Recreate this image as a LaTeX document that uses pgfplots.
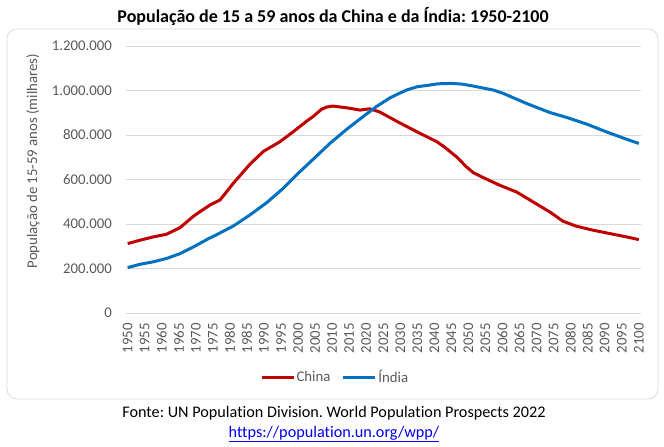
\documentclass[border=0pt]{standalone}
\usepackage{fontspec}
\setmainfont{Carlito}[Ligatures=CommonOff]
\usepackage{pgfplots}
\usepackage{pgfplotstable}
\pgfplotsset{compat=1.18}
\frenchspacing
\definecolor{cnred}{HTML}{C00000}
\definecolor{inblue}{HTML}{0070C0}
\definecolor{gridgray}{HTML}{D9D9D9}
\definecolor{txtgray}{HTML}{595959}
\definecolor{linkblue}{HTML}{0000EE}

\pgfplotstableread{
year value
1950 312000
1953.6 327000
1957.5 342000
1961.4 354000
1965.4 384000
1969.3 435000
1971.2 455000
1974 484000
1977.1 508000
1981 583000
1985.9 669000
1989.8 726000
1994.7 770000
1998.6 815000
2002.5 862000
2004.5 884000
2006.9 916000
2008.5 926000
2010.3 930000
2014.3 922000
2018.2 912000
2021.1 918000
2024 903000
2029.4 858000
2034.8 815000
2040.7 770000
2042.6 750000
2046.5 702000
2049.4 657000
2051.4 631000
2054.3 609000
2059.2 574000
2064.1 544000
2069 499000
2073.9 454000
2077.8 412000
2081.7 390000
2086.6 372000
2091.5 357000
2096.4 342000
2100 330000
}\china

\pgfplotstableread{
year value
1950 204000
1953.6 219000
1957.5 230000
1961.4 245000
1965.4 267000
1969.3 297000
1971.2 313000
1973.7 334000
1976.1 352000
1981 391000
1985.9 441000
1990.8 496000
1995.7 561000
2000.6 636000
2004.5 692000
2009.4 763000
2014.3 826000
2019.2 884000
2023.1 929000
2027 967000
2029.4 985000
2032 1003000
2035 1017000
2038 1023000
2041 1030000
2045 1032000
2048 1029000
2051.4 1020000
2057.3 1002000
2060.2 987000
2067 942000
2073.9 901000
2078.8 879000
2084.7 849000
2090.5 814000
2096.4 781000
2100 762000
}\india

\begin{document}
\begin{tikzpicture}[x=1pt,y=1pt]
\useasboundingbox (0,0) rectangle (664,447);
\draw[gridgray, line width=0.75pt, rounded corners=10pt] (7,48) rectangle (658,418);
\node[font=\fontsize{18}{21}\selectfont\bfseries] at (333,431) {População de 15 a 59 anos da China e da Índia: 1950-2100};
\begin{axis}[
  at={(126pt,134pt)}, anchor=south west,
  scale only axis, width=514.5pt, height=267pt,
  xmin=1949.5, xmax=2100.5, ymin=0, ymax=1200000,
  /pgf/number format/assume math mode=true,
  font=\fontsize{14.8}{17}\selectfont,
  ticklabel style={text=txtgray},
  axis line style={draw=none},
  major tick length=0pt,
  ymajorgrids, major grid style={gridgray, line width=0.75pt},
  ytick={0,200000,400000,600000,800000,1000000,1200000},
  scaled y ticks=false,
  yticklabel style={/pgf/number format/fixed, /pgf/number format/1000 sep={.}, anchor=east, inner sep=0pt, xshift=-14pt},
  xtick={1950,1955,...,2100},
  xticklabel style={/pgf/number format/1000 sep={}, yshift=-10pt, rotate=90, anchor=east, inner sep=0pt},
  ylabel={População de 15-59 anos (milhares)},
  ylabel style={at={(axis description cs:-0.181,0.569)}, anchor=center, text=txtgray},
  legend columns=2,
  legend style={draw=none, fill=none, at={(axis description cs:0.406,-0.24)}, anchor=center,
    text=txtgray, font=\fontsize{14.8}{17}\selectfont,
    nodes={inner sep=1.5pt},
    /tikz/every even column/.append style={column sep=10pt}},
  legend image code/.code={\draw[#1] (0pt,0pt) -- (32pt,0pt);},
]
\addplot[cnred, line width=3pt, line join=round] table[x=year, y=value] {\china};
\addlegendentry{China}
\addplot[inblue, line width=3pt, line join=round] table[x=year, y=value] {\india};
\addlegendentry{Índia}
\end{axis}
\node[font=\fontsize{16.2}{19}\selectfont] at (334,34) {Fonte: UN Population Division. World Population Prospects 2022};
\node[font=\fontsize{16.2}{19}\selectfont, text=linkblue] at (334,13) {\underline{https://population.un.org/wpp/}};
\end{tikzpicture}
\end{document}
